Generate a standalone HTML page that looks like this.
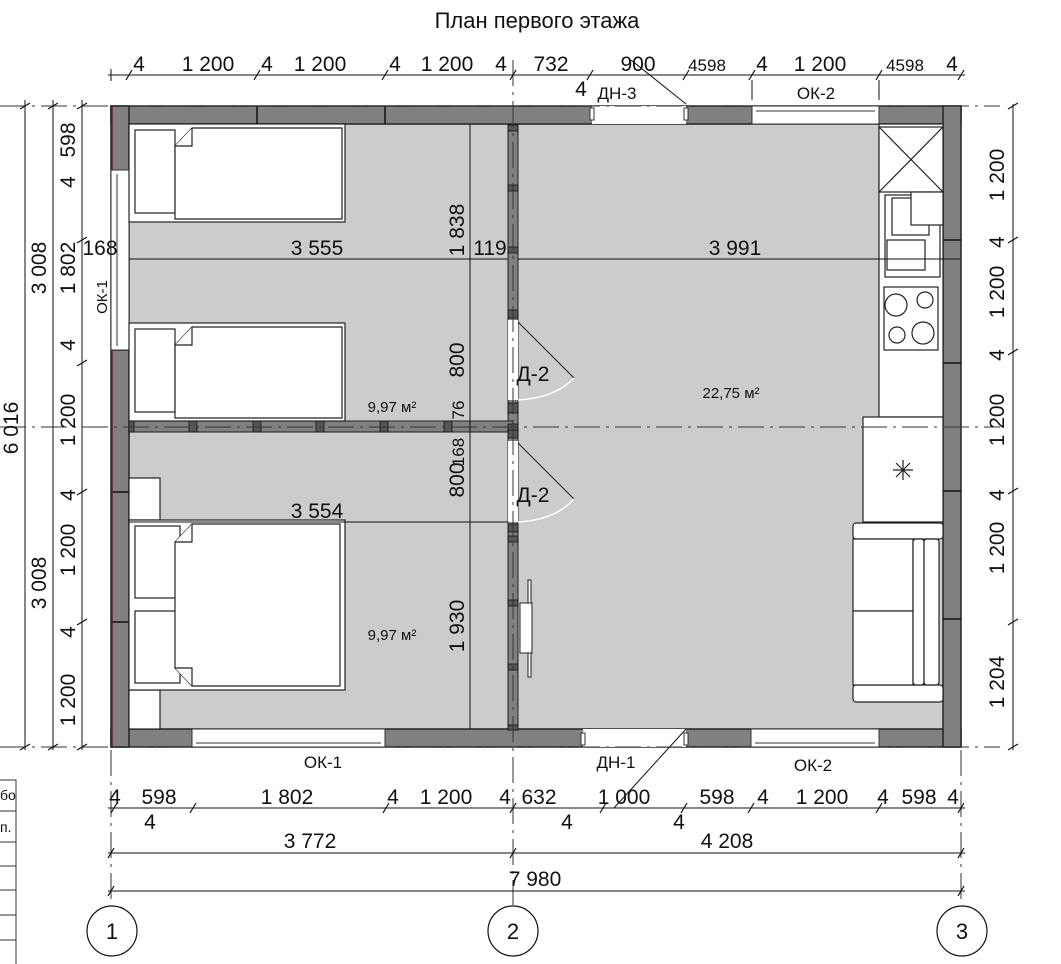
<!DOCTYPE html>
<html><head><meta charset="utf-8"><style>
html,body{margin:0;padding:0;background:#fff;}
svg{display:block;}
text{font-family:"Liberation Sans Narrow","Liberation Sans",sans-serif;fill:#111;}
</style></head><body>
<svg width="1061" height="964" viewBox="0 0 1061 964" xmlns="http://www.w3.org/2000/svg">
<!-- floor -->
<rect x="129" y="124" width="814" height="605" fill="#cccccc"/>
<!-- outer walls -->
<g fill="#808080" stroke="#222" stroke-width="1.5">
<rect x="111" y="106" width="850" height="18"/>
<rect x="111" y="729" width="850" height="18"/>
<rect x="111" y="106" width="18" height="641"/>
<rect x="943" y="106" width="18" height="641"/>
</g>
<g stroke="#111" stroke-width="1.5">
<line x1="257" y1="106" x2="257" y2="124"/><line x1="385" y1="106" x2="385" y2="124"/>
<line x1="111" y1="350" x2="129" y2="350"/><line x1="111" y1="492" x2="129" y2="492"/><line x1="111" y1="622" x2="129" y2="622"/>
<line x1="943" y1="240" x2="961" y2="240"/><line x1="943" y1="363" x2="961" y2="363"/><line x1="943" y1="491" x2="961" y2="491"/><line x1="943" y1="619" x2="961" y2="619"/>
</g>
<line x1="112" y1="106" x2="112" y2="747" stroke="#6a2020" stroke-width="1.5"/>
<!-- openings -->
<g fill="#fff" stroke="#333" stroke-width="1">
<rect x="592" y="106" width="94" height="18" stroke="none"/>
<rect x="752" y="106" width="127" height="18"/>
<line x1="756" y1="111" x2="875" y2="111"/>
<rect x="111" y="170" width="18" height="180"/>
<line x1="117" y1="174" x2="117" y2="346"/>
<rect x="192" y="729" width="193" height="18"/>
<line x1="196" y1="743" x2="381" y2="743"/>
<rect x="583" y="729" width="103" height="18" stroke="none"/>
<rect x="751" y="729" width="128" height="18"/>
<line x1="755" y1="743" x2="875" y2="743"/>
<rect x="590" y="108" width="4" height="12"/><rect x="684" y="108" width="4" height="12"/>
<rect x="581" y="733" width="4" height="12"/><rect x="684" y="733" width="4" height="12"/>
</g>
<!-- partitions -->
<rect x="508" y="124" width="10" height="605" fill="#808080" stroke="#222"/>
<rect x="129" y="421" width="384" height="11" fill="#808080" stroke="#222"/>
<g fill="#fff"><rect x="508" y="320" width="10" height="80"/><rect x="508" y="441" width="10" height="81"/></g>
<g fill="#555" stroke="#111" stroke-width="0.8">
<rect x="508" y="125" width="10" height="6"/><rect x="508" y="185" width="10" height="6"/><rect x="508" y="247" width="10" height="6"/><rect x="508" y="310" width="10" height="8"/>
<rect x="508" y="403" width="10" height="10"/><rect x="508" y="424" width="10" height="10"/><rect x="508" y="430" width="10" height="8"/>
<rect x="508" y="524" width="10" height="8"/><rect x="508" y="536" width="10" height="6"/><rect x="508" y="600" width="10" height="6"/><rect x="508" y="664" width="10" height="6"/><rect x="508" y="725" width="10" height="5"/>
<rect x="189" y="421" width="8" height="11"/><rect x="253" y="421" width="8" height="11"/><rect x="316" y="421" width="8" height="11"/><rect x="380" y="421" width="8" height="11"/><rect x="444" y="421" width="8" height="11"/><rect x="129" y="421" width="5" height="11"/>
</g>
<!-- doors -->
<g fill="none" stroke="#111" stroke-width="1">
<line x1="518" y1="322" x2="574" y2="378"/><line x1="518" y1="443" x2="574" y2="499"/>
<line x1="631" y1="60" x2="686" y2="104"/><line x1="614" y1="808" x2="686" y2="729"/>
</g>
<g fill="none" stroke="#fff" stroke-width="1.5">
<path d="M574 378 Q555 398 518 400"/><path d="M574 499 Q555 520 518 522"/>
</g>
<rect x="528" y="580" width="3" height="97" fill="#fff" stroke="#222"/>
<rect x="520" y="603" width="12" height="50" fill="#fff" stroke="#222"/>
<!-- beds -->
<g fill="#fff" stroke="#222" stroke-width="1.2">
<rect x="129" y="124" width="216" height="98"/><rect x="135" y="130" width="40" height="83"/><path d="M175 146 L192 128 L342 128 L342 219 L175 219 Z"/><path d="M175 146 L192 146 L192 128"/>
<rect x="129" y="323" width="216" height="98"/><rect x="135" y="329" width="40" height="83"/><path d="M175 345 L192 327 L342 327 L342 418 L175 418 Z"/><path d="M175 345 L192 345 L192 327"/>
<rect x="129" y="478" width="31" height="42"/><rect x="129" y="690" width="31" height="39"/>
<rect x="129" y="520" width="216" height="170"/><rect x="135" y="526" width="45" height="72"/><rect x="135" y="611" width="45" height="72"/>
<path d="M175 542 L192 524 L340 524 L340 686 L192 686 L175 668 Z"/><path d="M175 542 L192 542 L192 524 M175 668 L192 668 L192 686"/>
</g>
<!-- kitchen -->
<g fill="#fff" stroke="#222" stroke-width="1.2">
<rect x="879" y="124" width="64" height="293"/>
<rect x="879" y="127" width="64" height="65"/><path d="M879 127 L943 192 M943 127 L879 192"/>
<rect x="885" y="195" width="55" height="82"/><rect x="892" y="198" width="37" height="37"/><rect x="911" y="192" width="32" height="33"/>
<path d="M892 240 V270 M897 240 V270 M902 240 V270 M907 240 V270 M912 240 V270 M917 240 V270 M921 240 V270"/><rect x="887" y="240" width="38" height="30"/>
<rect x="884" y="287" width="54" height="63"/>
<circle cx="896" cy="305" r="11"/><circle cx="925" cy="300" r="8"/><circle cx="897" cy="335" r="8"/><circle cx="923" cy="333" r="11"/>
<rect x="863" y="417" width="80" height="105"/>
<path d="M903 460 V480 M893 470 H913 M896 463 L910 477 M910 463 L896 477"/>
<rect x="853" y="523" width="90" height="16" rx="3"/><rect x="853" y="685" width="90" height="17" rx="3"/>
<rect x="853" y="539" width="60" height="72"/><rect x="853" y="611" width="60" height="74"/>
<rect x="913" y="539" width="11" height="146" rx="3"/><rect x="924" y="539" width="15" height="146" rx="3"/>
</g>
<!-- axes -->
<g stroke="#333" stroke-width="1" stroke-dasharray="26,6,3,6" fill="none">
<line x1="0" y1="427" x2="1000" y2="427"/><line x1="0" y1="747" x2="1000" y2="747"/><line x1="0" y1="106" x2="1000" y2="106"/>
<line x1="513" y1="60" x2="513" y2="905"/><line x1="111" y1="750" x2="111" y2="905"/><line x1="961" y1="750" x2="961" y2="905"/>
</g>
<!-- dim lines -->
<g stroke="#111" stroke-width="1" fill="none">
<line x1="108" y1="75" x2="965" y2="75"/>
<line x1="108" y1="808" x2="965" y2="808"/><line x1="108" y1="853" x2="965" y2="853"/><line x1="108" y1="891" x2="965" y2="891"/>
<line x1="1013" y1="104" x2="1013" y2="750"/>
<line x1="25" y1="100" x2="25" y2="750"/><line x1="53" y1="100" x2="53" y2="750"/><line x1="82" y1="100" x2="82" y2="750"/>
<line x1="129" y1="259" x2="508" y2="259"/><line x1="518" y1="259" x2="960" y2="259"/><line x1="129" y1="522" x2="508" y2="522"/>
<line x1="470" y1="124" x2="470" y2="729"/>
<line x1="752" y1="80" x2="752" y2="100"/><line x1="879" y1="80" x2="879" y2="100"/>
<path d="M111 75 v-6 M111 75 v6"/>
</g>
<g stroke="#111" stroke-width="1.2">
<path d="M126 80 l6 -10 M254 80 l6 -10 M382 80 l6 -10 M510 80 l6 -10 M587 80 l6 -10 M683 80 l6 -10 M749 80 l6 -10 M876 80 l6 -10 M958 80 l6 -10"/>
<path d="M111 813 l6 -10 M190 813 l6 -10 M383 813 l6 -10 M510 813 l6 -10 M600 813 l6 -10 M681 813 l6 -10 M748 813 l6 -10 M876 813 l6 -10 M958 813 l6 -10"/>
<path d="M108 858 l6 -10 M510 858 l6 -10 M958 858 l6 -10 M108 896 l6 -10 M958 896 l6 -10"/>
<path d="M1008 243 l10 -6 M1008 355 l10 -6 M1008 494 l10 -6 M1008 625 l10 -6 M1008 109 l10 -6 M1008 750 l10 -6"/>
<path d="M77 243 l10 -6 M77 366 l10 -6 M77 495 l10 -6 M77 625 l10 -6 M20 109 l10 -6 M48 109 l10 -6 M77 109 l10 -6 M20 750 l10 -6 M48 750 l10 -6 M77 750 l10 -6"/>
</g>
<!-- axis circles -->
<g fill="#fff" stroke="#111" stroke-width="1.2">
<circle cx="112" cy="931" r="25"/><circle cx="513" cy="931" r="25"/><circle cx="962" cy="931" r="25"/>
</g>
<g font-size="22" text-anchor="middle">
<text x="112" y="939">1</text><text x="513" y="939">2</text><text x="962" y="939">3</text>
</g>
<!-- left table -->
<g stroke="#333" fill="none"><path d="M0 780 H16 V964 M0 811 H16 M0 842 H16 M0 866 H16 M0 890 H16 M0 915 H16 M0 940 H16"/></g>
<text x="0" y="800" font-size="14">бо</text><text x="0" y="832" font-size="14">п.</text>
<!-- title and labels -->
<text x="537" y="28" font-size="22" text-anchor="middle">План первого этажа</text>
<g font-size="21" text-anchor="middle">
<text x="139" y="71">4</text><text x="208" y="71">1 200</text><text x="267" y="71">4</text><text x="320" y="71">1 200</text>
<text x="395" y="71">4</text><text x="447" y="71">1 200</text><text x="501" y="71">4</text><text x="551" y="71">732</text><text x="638" y="71">900</text>
<text x="707" y="71" font-size="17">4598</text><text x="762" y="71">4</text><text x="820" y="71">1 200</text><text x="905" y="71" font-size="17">4598</text><text x="952" y="71">4</text>
<text x="581" y="96">4</text><text x="617" y="99" font-size="17">ДН-3</text><text x="816" y="99" font-size="17">ОК-2</text>
<text x="323" y="768" font-size="17">ОК-1</text><text x="616" y="768" font-size="17">ДН-1</text><text x="813" y="771" font-size="17">ОК-2</text>
<text x="115" y="804">4</text><text x="159" y="804">598</text><text x="287" y="804">1 802</text><text x="393" y="804">4</text><text x="446" y="804">1 200</text><text x="505" y="804">4</text>
<text x="539" y="804">632</text><text x="624" y="804">1 000</text><text x="717" y="804">598</text><text x="763" y="804">4</text><text x="822" y="804">1 200</text><text x="883" y="804">4</text><text x="919" y="804">598</text><text x="953" y="804">4</text>
<text x="150" y="829">4</text><text x="567" y="829">4</text><text x="679" y="829">4</text>
<text x="310" y="848">3 772</text><text x="727" y="848">4 208</text><text x="535" y="886">7 980</text>
<text x="317" y="255">3 555</text><text x="735" y="255">3 991</text><text x="490" y="255">119</text><text x="100" y="255">168</text>
<text x="317" y="518">3 554</text>
<text x="533" y="381">Д-2</text><text x="533" y="502">Д-2</text>
</g>
<g font-size="15" text-anchor="middle">
<text x="392" y="412">9,97 м²</text><text x="392" y="640">9,97 м²</text><text x="731" y="398">22,75 м²</text>
</g>
<g font-size="21" text-anchor="middle">
<g transform="translate(1004,175) rotate(-90)"><text>1 200</text></g>
<g transform="translate(1004,242) rotate(-90)"><text>4</text></g>
<g transform="translate(1004,292) rotate(-90)"><text>1 200</text></g>
<g transform="translate(1004,355) rotate(-90)"><text>4</text></g>
<g transform="translate(1004,420) rotate(-90)"><text>1 200</text></g>
<g transform="translate(1004,495) rotate(-90)"><text>4</text></g>
<g transform="translate(1004,548) rotate(-90)"><text>1 200</text></g>
<g transform="translate(1004,682) rotate(-90)"><text>1 204</text></g>
<g transform="translate(18,428) rotate(-90)"><text>6 016</text></g>
<g transform="translate(46,268) rotate(-90)"><text>3 008</text></g>
<g transform="translate(46,583) rotate(-90)"><text>3 008</text></g>
<g transform="translate(75,140) rotate(-90)"><text>598</text></g>
<g transform="translate(75,182) rotate(-90)"><text>4</text></g>
<g transform="translate(75,268) rotate(-90)"><text>1 802</text></g>
<g transform="translate(75,345) rotate(-90)"><text>4</text></g>
<g transform="translate(75,420) rotate(-90)"><text>1 200</text></g>
<g transform="translate(75,495) rotate(-90)"><text>4</text></g>
<g transform="translate(75,550) rotate(-90)"><text>1 200</text></g>
<g transform="translate(75,632) rotate(-90)"><text>4</text></g>
<g transform="translate(75,700) rotate(-90)"><text>1 200</text></g>
<g transform="translate(464,230) rotate(-90)"><text>1 838</text></g>
<g transform="translate(464,360) rotate(-90)"><text>800</text></g>
<g transform="translate(464,410) rotate(-90)"><text font-size="17">76</text></g>
<g transform="translate(464,452) rotate(-90)"><text font-size="17">168</text></g>
<g transform="translate(464,480) rotate(-90)"><text>800</text></g>
<g transform="translate(464,626) rotate(-90)"><text>1 930</text></g>
<g transform="translate(107,297) rotate(-90)"><text font-size="15">ОК-1</text></g>
</g>
</svg>
</body></html>
